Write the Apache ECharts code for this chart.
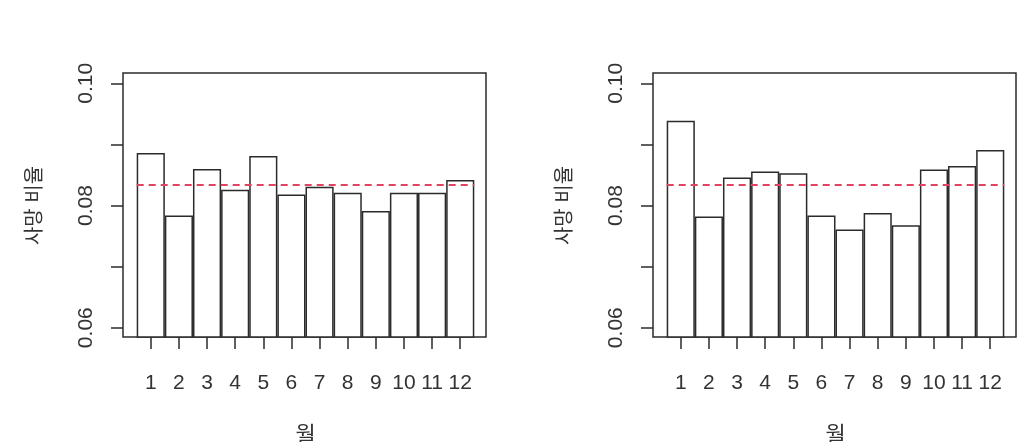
<!DOCTYPE html>
<html>
<head>
<meta charset="utf-8">
<script src="https://cdn.jsdelivr.net/npm/echarts@6/dist/echarts.min.js"></script>
<style>
  html, body {margin: 0; padding: 0; background: #fff;}
  #chart {width: 1027px; height: 442px;}
</style>
</head>
<body>
<div id="chart"></div>
<script>
const months = ['1', '2', '3', '4', '5', '6', '7', '8', '9', '10', '11', '12'];
const leftRates = [0.0885, 0.0783, 0.0859, 0.0825, 0.0880, 0.0817, 0.0830, 0.0820, 0.0790, 0.0820, 0.0820, 0.0841];
const rightRates = [0.0938, 0.0781, 0.0845, 0.0855, 0.0852, 0.0783, 0.0760, 0.0787, 0.0767, 0.0858, 0.0864, 0.0890];
const refRate = 1 / 12;
const yMin = 0.06, yMax = 0.10, yStep = 0.01;
const yTitle = '사망 비율';
const xTitle = '월';

const FONT = '"Liberation Sans", "Noto Sans CJK KR", sans-serif';
const INK = '#2b2b2b';
const pad = (yMax - yMin) * 0.04;   // R's yaxs="r" extension

const chart = echarts.init(document.getElementById('chart'));

const grids = [], xAxes = [], yAxes = [], series = [];

function panel(offset, rates) {
  const g = grids.length;
  // outer box
  grids.push({left: 123 + offset, top: 73, width: 363, height: 264, show: true,
    outerBoundsMode: 'none',
    borderColor: INK, borderWidth: 1.5, backgroundColor: 'transparent'});
  xAxes.push({gridIndex: g, type: 'value', show: false, min: 0, max: 1});
  yAxes.push({gridIndex: g, type: 'value', show: false, min: 0, max: 1});

  // bars
  grids.push({left: 136.7 + offset, top: 73, width: 337.6, height: 264, outerBoundsMode: 'none'});
  xAxes.push({
    gridIndex: g + 1, type: 'category', data: months,
    axisLine: {show: false},
    axisTick: {show: true, alignWithLabel: true, length: 12, lineStyle: {color: INK, width: 1.5}},
    axisLabel: {interval: 0, margin: 36, fontSize: 21, color: '#333', fontFamily: FONT},
    name: xTitle, nameLocation: 'middle', nameGap: 88,
    nameTextStyle: {fontSize: 22, color: '#333', fontFamily: FONT, verticalAlign: 'top'}
  });
  yAxes.push({gridIndex: g + 1, type: 'value', show: false, min: yMin - pad, max: yMax + pad});
  series.push({
    type: 'bar', xAxisIndex: g + 1, yAxisIndex: g + 1, data: rates,
    barCategoryGap: 0, silent: true,
    itemStyle: {color: '#fff', borderColor: INK, borderWidth: 1.5},
    markLine: {
      silent: true, symbol: 'none', label: {show: false}, precision: 6,
      lineStyle: {color: '#e2445f', type: [7, 5], width: 2},
      data: [{yAxis: refRate}]
    }
  });

  // y axis ticks and labels
  grids.push({left: 123 + offset, top: 83.3, width: 1, height: 244.4, outerBoundsMode: 'none'});
  xAxes.push({gridIndex: g + 2, type: 'value', show: false, min: 0, max: 1});
  yAxes.push({
    gridIndex: g + 2, type: 'value', min: yMin, max: yMax, interval: yStep,
    splitLine: {show: false},
    axisLine: {show: false},
    axisTick: {show: true, length: 12, lineStyle: {color: INK, width: 1.5}},
    axisLabel: {
      rotate: 90, margin: 26, fontSize: 21, color: '#333', fontFamily: FONT,
      formatter: v => (Math.round(v * 100) % 2 === 0 ? v.toFixed(2) : '')
    },
    name: yTitle, nameLocation: 'middle', nameGap: 78, nameRotate: 90,
    nameTextStyle: {fontSize: 20, color: '#333', fontFamily: FONT}
  });
}

panel(0, leftRates);
panel(530, rightRates);

chart.setOption({
  animation: false,
  backgroundColor: '#fff',
  grid: grids,
  xAxis: xAxes,
  yAxis: yAxes,
  series: series
});
</script>
</body>
</html>
